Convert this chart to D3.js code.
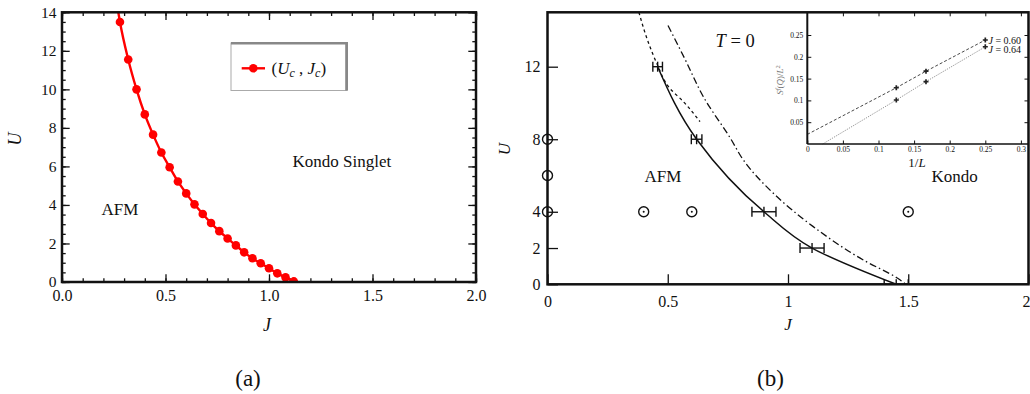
<!DOCTYPE html>
<html><head><meta charset="utf-8">
<script src="https://cdn.jsdelivr.net/npm/d3@7"></script>
<style>
body{margin:0;background:#fff}
svg{display:block}
text{font-family:"Liberation Serif","Times New Roman",serif;fill:#111}
</style></head><body>
<svg id="c" width="1030" height="394"></svg>
<script>
// ---------- Panel (a) data ----------
const critJ = [0.28,0.32,0.36,0.40,0.44,0.48,0.52,0.56,0.60,0.64,0.68,0.72,0.76,0.80,0.84,0.88,0.92,0.96,1.00,1.04,1.08,1.12];
const critU = [13.5,11.55,10.0,8.7,7.65,6.72,5.96,5.22,4.6,4.03,3.53,3.06,2.64,2.26,1.9,1.54,1.23,0.97,0.71,0.45,0.24,0.03];
const critTopJ = 0.272, critTopU = 14;          // line continues to top edge
const aXTicks = [0,0.5,1,1.5,2];
const aXMinor = d3.range(0,2.0001,0.1);
const aYTicks = [0,2,4,6,8,10,12,14];
const aYMinor = d3.range(0,14.0001,0.5);

// ---------- Panel (b) data ----------
const qmcJ   = [0.458,0.62,0.90,1.10,1.45];
const qmcU   = [12,8,4,2,0];
const qmcErr = [0.02,0.022,0.05,0.05,0.05];
const dashJ  = [0.38,0.415,0.454,0.509,0.563,0.634];
const dashU  = [15,13.5,12.2,10.8,10.1,8.97];
const dotDashJ = [0.501,0.570,0.65,0.763,0.814,0.939,1.105,1.313,1.456,1.49];
const dotDashU = [14.27,12.46,10.3,8,6.86,5.02,3.18,1.34,0.33,0];
const simJ   = [0,0,0,0.4,0.6,1.5];
const simU   = [8,6,4,4,4,4];
const simDot = [false,false,false,true,true,true];
const bXTicks = [0,0.5,1,1.5,2];
const bYTicks = [0,2,4,8,12];

// ---------- Inset data ----------
const invL    = [0.125,0.1667,0.25];
const s060    = [0.129,0.167,0.2385];
const s064    = [0.1009,0.143,0.223];
const fit060Start = [0,0.022];
const fit064Start = [0.0216,0];
const inXTicks = [0,0.05,0.1,0.15,0.2,0.25,0.3];
const inYTicks = [0.05,0.1,0.15,0.2,0.25];

const svg = d3.select("#c");

// ================= Panel (a) =================
const A = {l:62, r:476, t:12.3, b:282};
const xA = d3.scaleLinear([0,2],[A.l,A.r]);
const yA = d3.scaleLinear([0,14],[A.b,A.t]);
const gA = svg.append("g");

function styleAxis(g){ g.select(".domain").remove(); g.selectAll("line").attr("stroke","#111").attr("stroke-width",1.3); }

gA.append("g").attr("transform",`translate(0,${A.b})`)
  .call(d3.axisBottom(xA).tickValues(aXMinor).tickSize(-3.7).tickFormat("")).call(styleAxis);
gA.append("g").attr("transform",`translate(0,${A.t})`)
  .call(d3.axisTop(xA).tickValues(aXMinor).tickSize(-3.7).tickFormat("")).call(styleAxis);
gA.append("g").attr("transform",`translate(${A.l},0)`)
  .call(d3.axisLeft(yA).tickValues(aYMinor).tickSize(-3.7).tickFormat("")).call(styleAxis);
gA.append("g").attr("transform",`translate(${A.r},0)`)
  .call(d3.axisRight(yA).tickValues(aYMinor).tickSize(-3.7).tickFormat("")).call(styleAxis);

const axAB = gA.append("g").attr("transform",`translate(0,${A.b})`)
  .call(d3.axisBottom(xA).tickValues(aXTicks).tickSize(-7.7).tickPadding(8).tickFormat(d3.format(".1f"))).call(styleAxis);
axAB.selectAll("text").attr("font-size",16).attr("font-family","Liberation Serif").attr("fill","#111");
gA.append("g").attr("transform",`translate(0,${A.t})`)
  .call(d3.axisTop(xA).tickValues(aXTicks).tickSize(-7.7).tickFormat("")).call(styleAxis);
const axAL = gA.append("g").attr("transform",`translate(${A.l},0)`)
  .call(d3.axisLeft(yA).tickValues(aYTicks).tickSize(-7.7).tickPadding(5.5).tickFormat(d3.format("d"))).call(styleAxis);
axAL.selectAll("text").attr("font-size",15.5).attr("font-family","Liberation Serif").attr("fill","#111");
gA.append("g").attr("transform",`translate(${A.r},0)`)
  .call(d3.axisRight(yA).tickValues(aYTicks).tickSize(-7.7).tickFormat("")).call(styleAxis);

svg.append("clipPath").attr("id","clipA").append("rect")
  .attr("x",A.l).attr("y",A.t).attr("width",A.r-A.l).attr("height",A.b-A.t);
const critPts = critJ.map((j,i)=>[j,critU[i]]);
const critLine = [[critTopJ,critTopU]].concat(critPts);
const gAc = gA.append("g").attr("clip-path","url(#clipA)");
gAc.append("path").datum(critLine)
  .attr("d",d3.line().x(d=>xA(d[0])).y(d=>yA(d[1])).curve(d3.curveMonotoneX))
  .attr("fill","none").attr("stroke","#f00").attr("stroke-width",2.4);
gAc.selectAll("circle").data(critPts).join("circle")
  .attr("cx",d=>xA(d[0])).attr("cy",d=>yA(d[1])).attr("r",4.3).attr("fill","#f00");

gA.append("rect").attr("x",A.l).attr("y",A.t).attr("width",A.r-A.l).attr("height",A.b-A.t)
  .attr("fill","none").attr("stroke","#111").attr("stroke-width",2.5);

// legend
gA.append("rect").attr("x",231).attr("y",43).attr("width",116).attr("height",47.5)
  .attr("fill","#fff").attr("stroke","#aaa").attr("stroke-width",1);
gA.append("line").attr("x1",231).attr("x2",348).attr("y1",43.2).attr("y2",43.2).attr("stroke","#888").attr("stroke-width",2.6);
gA.append("line").attr("x1",346.6).attr("x2",346.6).attr("y1",43).attr("y2",90.5).attr("stroke","#888").attr("stroke-width",2.8);
gA.append("line").attr("x1",241.7).attr("x2",265).attr("y1",68.3).attr("y2",68.3).attr("stroke","#f00").attr("stroke-width",2.4);
gA.append("circle").attr("cx",253.3).attr("cy",68.3).attr("r",4.3).attr("fill","#f00");
const lt = gA.append("text").attr("x",271.5).attr("y",73.5).attr("font-size",17);
lt.append("tspan").text("(");
lt.append("tspan").attr("font-style","italic").text("U");
lt.append("tspan").attr("font-style","italic").attr("font-size",12).attr("dy",3).text("c");
lt.append("tspan").attr("dy",-3).text(" , ");
lt.append("tspan").attr("font-style","italic").text("J");
lt.append("tspan").attr("font-style","italic").attr("font-size",12).attr("dy",3).text("c");
lt.append("tspan").attr("dy",-3).text(")");

gA.append("text").attr("x",292.5).attr("y",167).attr("font-size",17).text("Kondo Singlet");
gA.append("text").attr("x",101.5).attr("y",215).attr("font-size",17).text("AFM");
gA.append("text").attr("transform","translate(20.5,139) rotate(-90)").attr("text-anchor","middle")
  .attr("font-size",18).attr("font-style","italic").text("U");
gA.append("text").attr("x",267).attr("y",331).attr("text-anchor","middle")
  .attr("font-size",18).attr("font-style","italic").text("J");
gA.append("text").attr("x",248).attr("y",386).attr("text-anchor","middle").attr("font-size",23).text("(a)");

// ================= Panel (b) =================
const B = {l:547.5, r:1028.5, t:12.3, b:284.3};
const xB = d3.scaleLinear([0,2],[B.l,B.r]);
const yB = d3.scaleLinear([0,15],[B.b,B.t]);
const gB = svg.append("g");

const axBB = gB.append("g").attr("transform",`translate(0,${B.b})`)
  .call(d3.axisBottom(xB).tickValues(bXTicks).tickSize(-10).tickPadding(11).tickFormat(d3.format("~g"))).call(styleAxis);
axBB.selectAll("text").attr("font-size",16).attr("font-family","Liberation Serif").attr("fill","#111");
// last label sits at the right edge of the figure: keep it inside the picture
axBB.selectAll(".tick").filter(d=>d===2).select("text").attr("text-anchor","end").attr("x",1.5);
const axBL = gB.append("g").attr("transform",`translate(${B.l},0)`)
  .call(d3.axisLeft(yB).tickValues(bYTicks).tickSize(-10.5).tickPadding(7).tickFormat(d3.format("d"))).call(styleAxis);
axBL.selectAll("text").attr("font-size",16).attr("font-family","Liberation Serif").attr("fill","#111");

svg.append("clipPath").attr("id","clipB").append("rect")
  .attr("x",B.l).attr("y",B.t).attr("width",B.r-B.l).attr("height",B.b-B.t);
const gBc = gB.append("g").attr("clip-path","url(#clipB)");
const lnB = d3.line().x(d=>xB(d[0])).y(d=>yB(d[1]));

gBc.append("path").datum(dashJ.map((j,i)=>[j,dashU[i]]))
  .attr("d",lnB.curve(d3.curveMonotoneY)).attr("fill","none").attr("stroke","#111")
  .attr("stroke-width",1.3).attr("stroke-dasharray","3,3");
gBc.append("path").datum(dotDashJ.map((j,i)=>[j,dotDashU[i]]))
  .attr("d",lnB.curve(d3.curveMonotoneY)).attr("fill","none").attr("stroke","#111")
  .attr("stroke-width",1.3).attr("stroke-dasharray","7,3,1.5,3");
gBc.append("path").datum(qmcJ.map((j,i)=>[j,qmcU[i]]))
  .attr("d",lnB.curve(d3.curveMonotoneY)).attr("fill","none").attr("stroke","#111").attr("stroke-width",1.5);

// error bars
const eb = gB.selectAll("g.eb").data(qmcJ.map((j,i)=>({j,u:qmcU[i],e:qmcErr[i]}))).join("g");
eb.append("line").attr("x1",d=>xB(d.j-d.e)).attr("x2",d=>xB(d.j+d.e)).attr("y1",d=>yB(d.u)).attr("y2",d=>yB(d.u))
  .attr("stroke","#111").attr("stroke-width",1.4);
eb.append("line").attr("x1",d=>xB(d.j-d.e)).attr("x2",d=>xB(d.j-d.e)).attr("y1",d=>yB(d.u)-5).attr("y2",d=>Math.min(yB(d.u)+5,B.b))
  .attr("stroke","#111").attr("stroke-width",1.4);
eb.append("line").attr("x1",d=>xB(d.j+d.e)).attr("x2",d=>xB(d.j+d.e)).attr("y1",d=>yB(d.u)-5).attr("y2",d=>Math.min(yB(d.u)+5,B.b))
  .attr("stroke","#111").attr("stroke-width",1.4);
eb.append("line").attr("x1",d=>xB(d.j)).attr("x2",d=>xB(d.j)).attr("y1",d=>yB(d.u)-5).attr("y2",d=>Math.min(yB(d.u)+5,B.b))
  .attr("stroke","#111").attr("stroke-width",1.4);

// simulated points
const sims = simJ.map((j,i)=>({j,u:simU[i],dot:simDot[i]}));
gB.selectAll("circle.sim").data(sims).join("circle").attr("class","sim")
  .attr("cx",d=>xB(d.j)).attr("cy",d=>yB(d.u)).attr("r",5).attr("fill","none").attr("stroke","#111").attr("stroke-width",1.4);
gB.selectAll("circle.simdot").data(sims.filter(d=>d.dot)).join("circle").attr("class","simdot")
  .attr("cx",d=>xB(d.j)).attr("cy",d=>yB(d.u)).attr("r",1).attr("fill","#111");

gB.append("text").attr("x",644.5).attr("y",182).attr("font-size",17).text("AFM");
gB.append("text").attr("x",931.5).attr("y",182).attr("font-size",17).text("Kondo");
const tt = gB.append("text").attr("x",715.5).attr("y",46.5).attr("font-size",18.5);
tt.append("tspan").attr("font-style","italic").text("T");
tt.append("tspan").text(" = 0");
gB.append("text").attr("transform","translate(509.5,149) rotate(-90)").attr("text-anchor","middle")
  .attr("font-size",17).attr("font-style","italic").text("U");
gB.append("text").attr("x",788).attr("y",330).attr("text-anchor","middle")
  .attr("font-size",17).attr("font-style","italic").text("J");
gB.append("text").attr("x",770.5).attr("y",386).attr("text-anchor","middle").attr("font-size",23).text("(b)");

// ================= Inset =================
const I = {l:807.3, r:B.r, t:B.t, b:144};
const xI = d3.scaleLinear([0,0.3],[807.3,1020.9]);
const yI = d3.scaleLinear([0,0.25],[144,35]);
const gI = svg.append("g");
gI.append("rect").attr("x",I.l).attr("y",I.t).attr("width",I.r-I.l).attr("height",I.b-I.t).attr("fill","#fff");
function styleSmall(g){ g.select(".domain").remove(); g.selectAll("line").attr("stroke","#111").attr("stroke-width",1); }
const iB = gI.append("g").attr("transform",`translate(0,${I.b})`)
  .call(d3.axisBottom(xI).tickValues(inXTicks).tickSize(-3.5).tickPadding(3).tickFormat(d3.format("~g"))).call(styleSmall);
iB.selectAll("text").attr("font-size",7.5).attr("font-family","Liberation Serif").attr("fill","#222");
gI.append("g").attr("transform",`translate(0,${I.t})`)
  .call(d3.axisTop(xI).tickValues(inXTicks.slice(1)).tickSize(-4).tickFormat("")).call(styleSmall);
const iL = gI.append("g").attr("transform",`translate(${I.l},0)`)
  .call(d3.axisLeft(yI).tickValues(inYTicks).tickSize(-4).tickPadding(4).tickFormat(d3.format("~g"))).call(styleSmall);
iL.selectAll("text").attr("font-size",7.5).attr("font-family","Liberation Serif").attr("fill","#222");
gI.append("g").attr("transform",`translate(${I.r},0)`)
  .call(d3.axisRight(yI).tickValues(inYTicks).tickSize(-4).tickFormat("")).call(styleSmall);

const lnI = d3.line().x(d=>xI(d[0])).y(d=>yI(d[1]));
const p060 = invL.map((x,i)=>[x,s060[i]]);
const p064 = invL.map((x,i)=>[x,s064[i]]);
gI.append("path").datum([fit060Start].concat(p060)).attr("d",lnI).attr("fill","none")
  .attr("stroke","#333").attr("stroke-width",0.9).attr("stroke-dasharray","3,2");
gI.append("path").datum([fit064Start].concat(p064)).attr("d",lnI).attr("fill","none")
  .attr("stroke","#666").attr("stroke-width",0.8).attr("stroke-dasharray","1,1.2");
const sym = d3.symbol().type(d3.symbolCross).size(14);
gI.selectAll("path.m").data(p060.concat(p064)).join("path").attr("class","m")
  .attr("transform",d=>`translate(${xI(d[0])},${yI(d[1])})`).attr("d",sym).attr("fill","#222");

const l1 = gI.append("text").attr("x",988.5).attr("y",43.5).attr("font-size",10);
l1.append("tspan").attr("font-style","italic").text("J");
l1.append("tspan").text(" = 0.60");
const l2 = gI.append("text").attr("x",988.5).attr("y",53).attr("font-size",10);
l2.append("tspan").attr("font-style","italic").text("J");
l2.append("tspan").text(" = 0.64");

const il = gI.append("text").attr("x",917).attr("y",167).attr("text-anchor","middle").attr("font-size",13);
il.append("tspan").text("1/");
il.append("tspan").attr("font-style","italic").text("L");
const yl = gI.append("text").attr("transform","translate(783,80) rotate(-90)").attr("text-anchor","middle")
  .attr("font-size",9).style("fill","#777");
yl.append("tspan").attr("font-style","italic").style("fill","#777").text("S");
yl.append("tspan").attr("font-style","italic").attr("font-size",6.5).attr("dy",-3).style("fill","#777").text("f");
yl.append("tspan").attr("dy",3).style("fill","#777").text("(");
yl.append("tspan").attr("font-style","italic").style("fill","#777").text("Q\u0304");
yl.append("tspan").style("fill","#777").text(")/");
yl.append("tspan").attr("font-style","italic").style("fill","#777").text("L");
yl.append("tspan").attr("font-size",6.5).attr("dy",-3).style("fill","#777").text("2");

// inset frame lines (left and bottom)
gI.append("line").attr("x1",I.l).attr("x2",I.l).attr("y1",I.t).attr("y2",I.b).attr("stroke","#111").attr("stroke-width",2);
gI.append("line").attr("x1",I.l).attr("x2",I.r).attr("y1",I.b).attr("y2",I.b).attr("stroke","#111").attr("stroke-width",1.6);

// main frame (b), drawn above the inset
svg.append("rect").attr("x",B.l).attr("y",B.t).attr("width",B.r-B.l).attr("height",B.b-B.t)
  .attr("fill","none").attr("stroke","#111").attr("stroke-width",2.5);
</script>
</body></html>
